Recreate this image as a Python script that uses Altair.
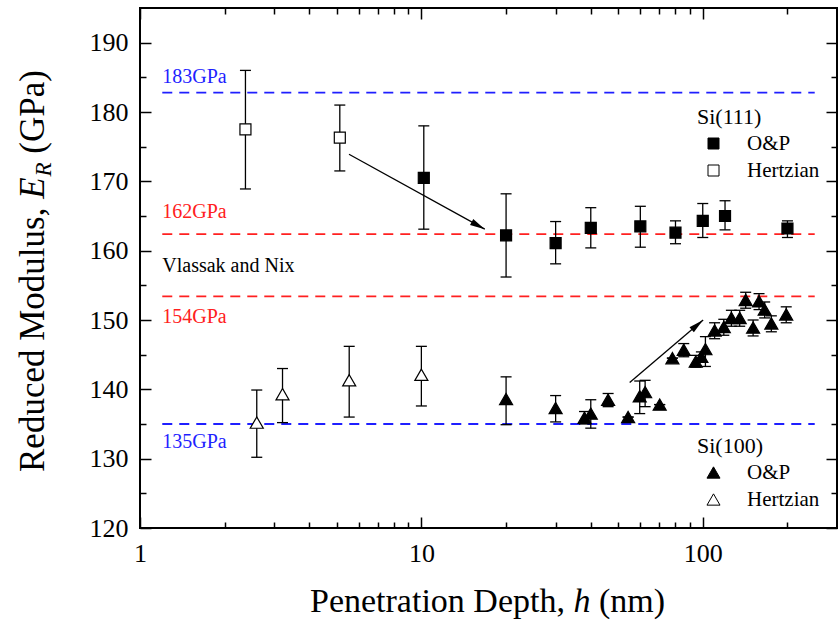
import math
import altair as alt
import pandas as pd

# ---------------- data ----------------
# Si(111), Oliver & Pharr
s111_op_h = [10.2, 20, 30, 40, 60, 80, 100, 120, 200]
s111_op_E = [170.5, 162.2, 161.1, 163.3, 163.5, 162.6, 164.3, 165.0, 163.2]
s111_op_lo = [163.1, 156.2, 158.1, 160.4, 160.5, 161.0, 161.9, 163.0, 161.9]
s111_op_hi = [178.0, 168.2, 164.2, 166.2, 166.4, 164.3, 166.8, 167.2, 164.3]
# Si(111), Hertzian
s111_hz_h = [2.37, 5.13]
s111_hz_E = [177.5, 176.3]
s111_hz_lo = [168.9, 171.5]
s111_hz_hi = [186.0, 181.0]
# Si(100), Hertzian
s100_hz_h = [2.60, 3.21, 5.54, 10.0]
s100_hz_E = [135.2, 139.3, 141.3, 142.1]
s100_hz_lo = [130.2, 135.2, 136.0, 137.6]
s100_hz_hi = [139.9, 143.0, 146.2, 146.2]
# Si(100), Oliver & Pharr
s100_op_h = [20, 30, 38.0, 40, 46.1, 54.3, 59.7, 62.4, 70.3, 78.0, 85.6, 94.4,
             98.9, 102.2, 110.2, 118.8, 126.4, 135.3, 142.1, 151, 158.5, 166, 175.3, 198]
s100_op_E = [138.6, 137.3, 135.9, 136.5, 138.5, 136.0, 139.0, 139.6, 137.8, 144.5, 145.7, 144.0,
             144.7, 145.8, 148.5, 149.0, 150.3, 150.3, 152.9, 148.9, 152.7, 151.5, 149.5, 150.8]
s100_op_lo = [134.9, 135.3, 135.0, 134.4, 137.5, 136.0, 136.5, 137.5, 137.8, 144.5, 144.7, 143.2,
              144.0, 143.3, 147.3, 147.8, 149.1, 149.1, 151.7, 147.7, 151.5, 150.3, 148.3, 149.6]
s100_op_hi = [141.8, 139.1, 136.8, 138.5, 139.4, 136.0, 141.2, 141.3, 137.8, 144.5, 146.6, 144.9,
              145.4, 147.6, 149.6, 150.1, 151.4, 151.4, 154.0, 150.0, 153.8, 152.6, 150.6, 151.9]

# reference levels
ref_E = [182.8, 162.4, 153.4, 135.0]
ref_color = ["#1f1fff", "#ff2020", "#ff2020", "#1f1fff"]
ref_h_start = 1.2
ref_h_end = 250
# annotations
lab_text = ["183GPa", "162GPa", "Vlassak and Nix", "154GPa", "135GPa"]
lab_E = [185.0, 165.6, 157.8, 150.5, 132.4]
lab_color = ["#1f1fff", "#ff2020", "#000000", "#ff2020", "#1f1fff"]
lab_h = 1.2
# arrows (tail -> head)
arr_h0 = [5.53, 55.0]
arr_E0 = [173.9, 141.0]
arr_h1 = [16.8, 100.3]
arr_E1 = [163.1, 150.0]

# axis ticks
x_major = [1, 10, 100]
x_minor = [2, 3, 4, 5, 6, 7, 8, 9, 20, 30, 40, 50, 60, 70, 80, 90, 200]
y_major = [120, 130, 140, 150, 160, 170, 180, 190]
y_minor = [125, 135, 145, 155, 165, 175, 185]

# ---------------- layout ----------------
W, H = 697, 520
XDOM = [1, 300]
YDOM = [120, 195]
FONT = "Liberation Serif"
MAJ, MIN = 11, 6

xs = alt.Scale(type="log", domain=XDOM, nice=False)
ys = alt.Scale(domain=YDOM, nice=False, zero=False)


def px(h):
    return W * (math.log10(h) - math.log10(XDOM[0])) / (math.log10(XDOM[1]) - math.log10(XDOM[0]))


def py(e):
    return H * (YDOM[1] - e) / (YDOM[1] - YDOM[0])


def ax(orient, values, size, labels):
    return alt.Axis(orient=orient, values=values, tickSize=size, offset=-size,
                    domain=False, labels=labels, title=None, grid=False,
                    ticks=True, tickColor="black", tickWidth=1.5,
                    labelFont=FONT, labelFontSize=26, labelColor="black",
                    labelPadding=12, labelFlush=False, labelOverlap=False,
                    format="d")


# ---------------- frames ----------------
rows = []
for h, e, lo, hi in zip(s111_op_h, s111_op_E, s111_op_lo, s111_op_hi):
    rows.append(dict(h=h, E=e, lo=lo, hi=hi, series="Si(111)", method="O&P"))
for h, e, lo, hi in zip(s111_hz_h, s111_hz_E, s111_hz_lo, s111_hz_hi):
    rows.append(dict(h=h, E=e, lo=lo, hi=hi, series="Si(111)", method="Hertzian"))
for h, e, lo, hi in zip(s100_op_h, s100_op_E, s100_op_lo, s100_op_hi):
    rows.append(dict(h=h, E=e, lo=lo, hi=hi, series="Si(100)", method="O&P"))
for h, e, lo, hi in zip(s100_hz_h, s100_hz_E, s100_hz_lo, s100_hz_hi):
    rows.append(dict(h=h, E=e, lo=lo, hi=hi, series="Si(100)", method="Hertzian"))
df = pd.DataFrame(rows)
df111 = df[df.series == "Si(111)"]
df100 = df[df.series == "Si(100)"]

ref_df = pd.DataFrame({"E": ref_E, "color": ref_color,
                       "h0": [ref_h_start] * len(ref_E), "h1": [ref_h_end] * len(ref_E)})
lab_df = pd.DataFrame({"text": lab_text, "E": lab_E, "color": lab_color,
                       "h": [lab_h] * len(lab_text)})

angles = []
for a, b, c, d in zip(arr_h0, arr_E0, arr_h1, arr_E1):
    dx = px(c) - px(a)
    dy = py(d) - py(b)
    angles.append(math.degrees(math.atan2(dx, -dy)) % 360)
arr_df = pd.DataFrame({"h0": arr_h0, "E0": arr_E0, "h1": arr_h1, "E1": arr_E1, "ang": angles})

# ---------------- layers ----------------
ref_rules = alt.Chart(ref_df).mark_rule(strokeDash=[10, 7], strokeWidth=1.8).encode(
    x=alt.X("h0:Q", scale=xs, axis=ax("bottom", x_major, MAJ, True)),
    x2="h1:Q",
    y=alt.Y("E:Q", scale=ys, axis=ax("left", y_major, MAJ, True)),
    color=alt.Color("color:N", scale=None),
)

ref_labels = alt.Chart(lab_df).mark_text(align="left", baseline="middle", font=FONT,
                                         fontSize=20).encode(
    x=alt.X("h:Q", scale=xs, axis=ax("bottom", x_minor, MIN, False)),
    y=alt.Y("E:Q", scale=ys, axis=ax("left", y_minor, MIN, False)),
    text="text:N",
    color=alt.Color("color:N", scale=None),
)

err_rules = alt.Chart(df).mark_rule(color="black", strokeWidth=1.3).encode(
    x=alt.X("h:Q", scale=xs, axis=ax("top", x_major, MAJ, False)),
    y=alt.Y("lo:Q", scale=ys, axis=ax("right", y_major, MAJ, False)),
    y2="hi:Q",
)

cap_lo = alt.Chart(df).mark_tick(orient="horizontal", size=11, thickness=1.3,
                                 color="black", opacity=1).encode(
    x=alt.X("h:Q", scale=xs, axis=ax("top", x_minor, MIN, False)),
    y=alt.Y("lo:Q", scale=ys, axis=ax("right", y_minor, MIN, False)),
)
cap_hi = alt.Chart(df).mark_tick(orient="horizontal", size=11, thickness=1.3,
                                 color="black", opacity=1).encode(
    x=alt.X("h:Q", scale=xs, axis=None),
    y=alt.Y("hi:Q", scale=ys, axis=None),
)

arrow_lines = alt.Chart(arr_df).mark_rule(color="black", strokeWidth=1.3).encode(
    x=alt.X("h0:Q", scale=xs, axis=None), x2="h1:Q",
    y=alt.Y("E0:Q", scale=ys, axis=None), y2="E1:Q",
)
arrow_heads = alt.Chart(arr_df).mark_point(shape="M0,0L-0.45,2L0.45,2Z", size=225,
                                           filled=True, color="black", opacity=1,
                                           strokeWidth=0).encode(
    x=alt.X("h1:Q", scale=xs, axis=None),
    y=alt.Y("E1:Q", scale=ys, axis=None),
    angle=alt.Angle("ang:Q", scale=None),
)


def legend(title, ly, sym, size):
    return alt.Legend(title=title, orient="none", legendX=557, legendY=ly,
                      direction="vertical", symbolType=sym, symbolSize=size,
                      symbolStrokeColor="black", symbolStrokeWidth=1,
                      titleFont=FONT, titleFontSize=22, titleFontWeight="normal",
                      titleColor="black", labelFont=FONT, labelFontSize=21,
                      labelColor="black", labelOffset=23, symbolOffset=6,
                      rowPadding=5, titlePadding=4, padding=0)


pts111 = alt.Chart(df111).mark_point(shape="square", size=121, filled=True,
                                     stroke="black", strokeWidth=1.2, opacity=1).encode(
    x=alt.X("h:Q", scale=xs, axis=None),
    y=alt.Y("E:Q", scale=ys, axis=None),
    fill=alt.Fill("method:N", scale=alt.Scale(domain=["O&P", "Hertzian"], range=["black", "white"]),
                  legend=legend("Si(111)", 99, "square", 121)),
)
pts100 = alt.Chart(df100).mark_point(shape="triangle-up", size=170, filled=True,
                                     stroke="black", strokeWidth=1.2, opacity=1).encode(
    x=alt.X("h:Q", scale=xs, axis=None),
    y=alt.Y("E:Q", scale=ys, axis=None),
    fill=alt.Fill("method:N", scale=alt.Scale(domain=["O&P", "Hertzian"], range=["black", "white"]),
                  legend=legend("Si(100)", 428, "triangle-up", 170)),
)

# ---------------- axis titles (mixed roman / italic) ----------------
one = pd.DataFrame({"k": [0]})


def tpiece(text, x, y, style="normal", size=34, angle=0, align="left"):
    return alt.Chart(one).mark_text(text=text, font=FONT, fontSize=size, fontStyle=style,
                                    align=align, baseline="alphabetic", angle=angle,
                                    color="black").encode(x=alt.value(x), y=alt.value(y))


# x title
XFS = 34
em = XFS / 1000.0
xa = 170
xb = xa + 7499 * em + 250 * em
xc = xb + 500 * em + 250 * em
xt_y = 604
xtitle = [
    tpiece("Penetration Depth,", xa, xt_y, size=XFS),
    tpiece("h", xb, xt_y, "italic", size=XFS),
    tpiece("(nm)", xc, xt_y, size=XFS),
]
# y title (rotated, reading upward)
YFS = 35
em = YFS / 1000.0
yx = -96
ya = 464
yb = ya - 7555 * em - 250 * em
yc = yb - 611 * em
yd = yc - 611 * 0.023 - 250 * em - 1
ytitle = [
    tpiece("Reduced Modulus,", yx, ya, size=YFS, angle=270),
    tpiece("E", yx, yb, "italic", size=YFS, angle=270),
    tpiece("R", yx + 7, yc - 1, "italic", size=23, angle=270),
    tpiece("(GPa)", yx, yd, size=YFS, angle=270),
]

chart = alt.layer(
    ref_rules, ref_labels, err_rules, cap_lo, cap_hi, arrow_lines, arrow_heads,
    pts111, pts100, *xtitle, *ytitle,
).resolve_scale(
    x="shared", y="shared", fill="independent"
).resolve_axis(
    x="independent", y="independent"
).properties(
    width=W, height=H,
    autosize=alt.AutoSizeParams(type="none"),
    padding={"left": 140, "top": 8, "right": 1, "bottom": 95},
    background="white",
).configure_view(
    stroke="black", strokeWidth=2
)

chart.save("out.html", embed_options={"renderer": "svg", "actions": False})
